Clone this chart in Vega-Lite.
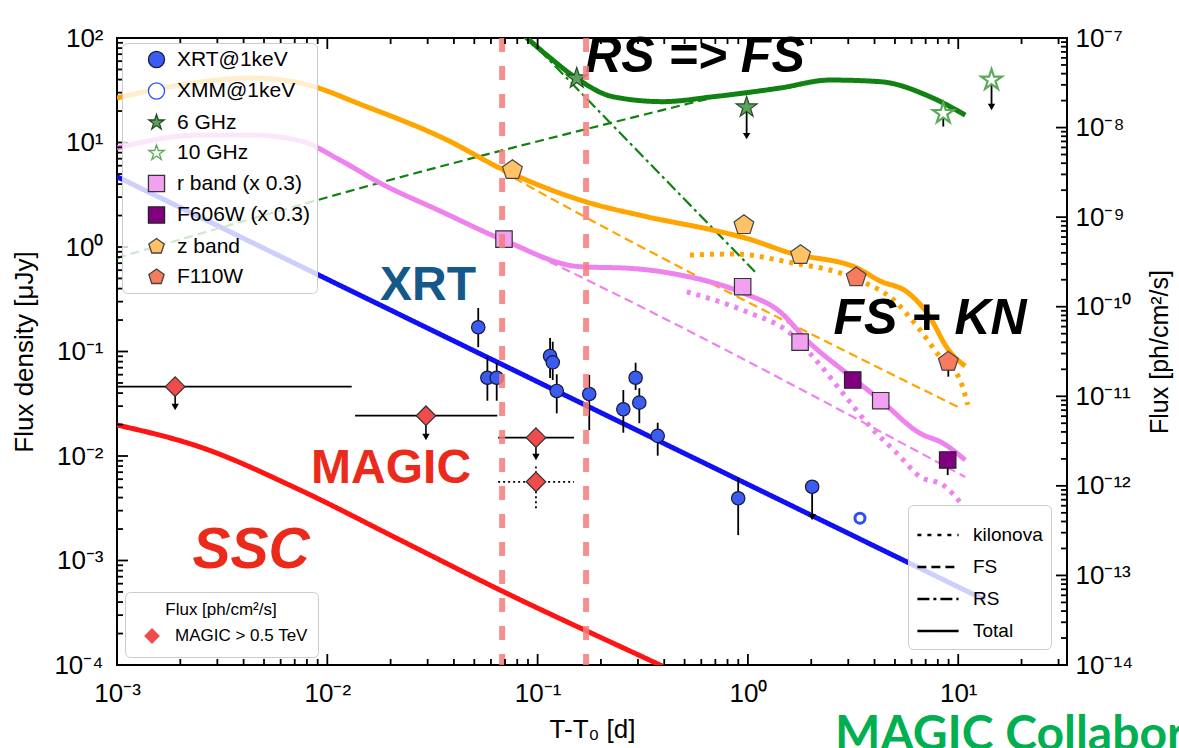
{
"$schema": "https://vega.github.io/schema/vega-lite/v6.json",
"width": 950,
"height": 627,
"autosize": {"type": "none"},
"padding": {"left": 117, "top": 38, "right": 112, "bottom": 83},
"background": "white",
"config": {
  "font": "Liberation Sans",
  "view": {"stroke": "black", "strokeWidth": 2},
  "axis": {"grid": false, "domain": false, "ticks": false, "tickSize": 0, "labelColor": "black", "titleColor": "black", "labelFont": "Liberation Sans", "titleFont": "Liberation Sans", "labelFontSize": 26, "titleFontSize": 26, "titleFontWeight": "normal", "labelOverlap": false, "labelFlush": false, "labelBound": false, "tickCount": 70},
  "legend": {"labelFont": "Liberation Sans", "titleFont": "Liberation Sans", "labelColor": "black", "titleColor": "black"}
},
"datasets": {
  "xt": [
    {"v":0.001,"m":1},{"v":0.002,"m":0},{"v":0.003,"m":0},{"v":0.004,"m":0},{"v":0.005,"m":0},{"v":0.006,"m":0},{"v":0.007,"m":0},{"v":0.008,"m":0},{"v":0.009,"m":0},
    {"v":0.01,"m":1},{"v":0.02,"m":0},{"v":0.03,"m":0},{"v":0.04,"m":0},{"v":0.05,"m":0},{"v":0.06,"m":0},{"v":0.07,"m":0},{"v":0.08,"m":0},{"v":0.09,"m":0},
    {"v":0.1,"m":1},{"v":0.2,"m":0},{"v":0.3,"m":0},{"v":0.4,"m":0},{"v":0.5,"m":0},{"v":0.6,"m":0},{"v":0.7,"m":0},{"v":0.8,"m":0},{"v":0.9,"m":0},
    {"v":1,"m":1},{"v":2,"m":0},{"v":3,"m":0},{"v":4,"m":0},{"v":5,"m":0},{"v":6,"m":0},{"v":7,"m":0},{"v":8,"m":0},{"v":9,"m":0},
    {"v":10,"m":1},{"v":20,"m":0},{"v":30,"m":0}
  ],
  "yt": [
    {"v":0.0001,"m":1},{"v":0.0002,"m":0},{"v":0.0003,"m":0},{"v":0.0004,"m":0},{"v":0.0005,"m":0},{"v":0.0006,"m":0},{"v":0.0007,"m":0},{"v":0.0008,"m":0},{"v":0.0009,"m":0},
    {"v":0.001,"m":1},{"v":0.002,"m":0},{"v":0.003,"m":0},{"v":0.004,"m":0},{"v":0.005,"m":0},{"v":0.006,"m":0},{"v":0.007,"m":0},{"v":0.008,"m":0},{"v":0.009,"m":0},
    {"v":0.01,"m":1},{"v":0.02,"m":0},{"v":0.03,"m":0},{"v":0.04,"m":0},{"v":0.05,"m":0},{"v":0.06,"m":0},{"v":0.07,"m":0},{"v":0.08,"m":0},{"v":0.09,"m":0},
    {"v":0.1,"m":1},{"v":0.2,"m":0},{"v":0.3,"m":0},{"v":0.4,"m":0},{"v":0.5,"m":0},{"v":0.6,"m":0},{"v":0.7,"m":0},{"v":0.8,"m":0},{"v":0.9,"m":0},
    {"v":1,"m":1},{"v":2,"m":0},{"v":3,"m":0},{"v":4,"m":0},{"v":5,"m":0},{"v":6,"m":0},{"v":7,"m":0},{"v":8,"m":0},{"v":9,"m":0},
    {"v":10,"m":1},{"v":20,"m":0},{"v":30,"m":0},{"v":40,"m":0},{"v":50,"m":0},{"v":60,"m":0},{"v":70,"m":0},{"v":80,"m":0},{"v":90,"m":0},
    {"v":100,"m":1}
  ],
  "pt": [
    {"v":1e-14,"m":1},{"v":2e-14,"m":0},{"v":3e-14,"m":0},{"v":4e-14,"m":0},{"v":5e-14,"m":0},{"v":6e-14,"m":0},{"v":7e-14,"m":0},{"v":8e-14,"m":0},{"v":9e-14,"m":0},
    {"v":1e-13,"m":1},{"v":2e-13,"m":0},{"v":3e-13,"m":0},{"v":4e-13,"m":0},{"v":5e-13,"m":0},{"v":6e-13,"m":0},{"v":7e-13,"m":0},{"v":8e-13,"m":0},{"v":9e-13,"m":0},
    {"v":1e-12,"m":1},{"v":2e-12,"m":0},{"v":3e-12,"m":0},{"v":4e-12,"m":0},{"v":5e-12,"m":0},{"v":6e-12,"m":0},{"v":7e-12,"m":0},{"v":8e-12,"m":0},{"v":9e-12,"m":0},
    {"v":1e-11,"m":1},{"v":2e-11,"m":0},{"v":3e-11,"m":0},{"v":4e-11,"m":0},{"v":5e-11,"m":0},{"v":6e-11,"m":0},{"v":7e-11,"m":0},{"v":8e-11,"m":0},{"v":9e-11,"m":0},
    {"v":1e-10,"m":1},{"v":2e-10,"m":0},{"v":3e-10,"m":0},{"v":4e-10,"m":0},{"v":5e-10,"m":0},{"v":6e-10,"m":0},{"v":7e-10,"m":0},{"v":8e-10,"m":0},{"v":9e-10,"m":0},
    {"v":1e-9,"m":1},{"v":2e-9,"m":0},{"v":3e-9,"m":0},{"v":4e-9,"m":0},{"v":5e-9,"m":0},{"v":6e-9,"m":0},{"v":7e-9,"m":0},{"v":8e-9,"m":0},{"v":9e-9,"m":0},
    {"v":1e-8,"m":1},{"v":2e-8,"m":0},{"v":3e-8,"m":0},{"v":4e-8,"m":0},{"v":5e-8,"m":0},{"v":6e-8,"m":0},{"v":7e-8,"m":0},{"v":8e-8,"m":0},{"v":9e-8,"m":0},
    {"v":1e-7,"m":1}
  ],
  "curves": [
    {"band":"X-ray","comp":"Total","t":0.001,"f":4.71},
    {"band":"X-ray","comp":"Total","t":13.4,"f":0.000419},
    {"band":"SSC","comp":"Total","t":0.001,"f":0.0198},
    {"band":"SSC","comp":"Total","t":0.00248,"f":0.0122},
    {"band":"SSC","comp":"Total","t":0.00741,"f":0.00473},
    {"band":"SSC","comp":"Total","t":0.0222,"f":0.00157},
    {"band":"SSC","comp":"Total","t":0.0662,"f":0.000522},
    {"band":"SSC","comp":"Total","t":0.382,"f":0.0001},
    {"band":"SSC","comp":"Total","t":0.6,"f":0.0000653},
    {"band":"radio","comp":"Total","t":0.07,"f":150},
    {"band":"radio","comp":"Total","t":0.0824,"f":114},
    {"band":"radio","comp":"Total","t":0.1104,"f":68.8},
    {"band":"radio","comp":"Total","t":0.1535,"f":41.1},
    {"band":"radio","comp":"Total","t":0.2286,"f":27.4},
    {"band":"radio","comp":"Total","t":0.394,"f":24.6},
    {"band":"radio","comp":"Total","t":0.682,"f":27.4},
    {"band":"radio","comp":"Total","t":1.42,"f":33.2},
    {"band":"radio","comp":"Total","t":2.46,"f":39.6},
    {"band":"radio","comp":"Total","t":4.25,"f":38.2},
    {"band":"radio","comp":"Total","t":7.35,"f":27.4},
    {"band":"radio","comp":"Total","t":10.8,"f":18.3},
    {"band":"radio","comp":"FS","t":0.001,"f":0.785},
    {"band":"radio","comp":"FS","t":0.0178,"f":4.12},
    {"band":"radio","comp":"FS","t":0.661,"f":26.5},
    {"band":"radio","comp":"RS","t":0.085,"f":112},
    {"band":"radio","comp":"RS","t":1.08,"f":0.58},
    {"band":"z","comp":"Total","t":0.001,"f":26.7},
    {"band":"z","comp":"Total","t":0.00248,"f":37.9},
    {"band":"z","comp":"Total","t":0.00429,"f":41.4},
    {"band":"z","comp":"Total","t":0.00741,"f":37.1},
    {"band":"z","comp":"Total","t":0.01538,"f":22.0},
    {"band":"z","comp":"Total","t":0.037,"f":10.6},
    {"band":"z","comp":"Total","t":0.0662,"f":5.70},
    {"band":"z","comp":"Total","t":0.159,"f":2.82},
    {"band":"z","comp":"Total","t":0.33,"f":1.95},
    {"band":"z","comp":"Total","t":0.682,"f":1.45},
    {"band":"z","comp":"Total","t":0.986,"f":1.21},
    {"band":"z","comp":"Total","t":1.585,"f":0.877},
    {"band":"z","comp":"Total","t":3.30,"f":0.630},
    {"band":"z","comp":"Total","t":4.25,"f":0.473},
    {"band":"z","comp":"Total","t":5.71,"f":0.371},
    {"band":"z","comp":"Total","t":7.11,"f":0.234},
    {"band":"z","comp":"Total","t":9.14,"f":0.0989},
    {"band":"z","comp":"Total","t":10.8,"f":0.0727},
    {"band":"z","comp":"FS","t":0.001,"f":26.7},
    {"band":"z","comp":"FS","t":0.00248,"f":37.9},
    {"band":"z","comp":"FS","t":0.00429,"f":41.4},
    {"band":"z","comp":"FS","t":0.00741,"f":37.1},
    {"band":"z","comp":"FS","t":0.01538,"f":22.0},
    {"band":"z","comp":"FS","t":0.037,"f":10.6},
    {"band":"z","comp":"FS","t":0.0662,"f":5.45},
    {"band":"z","comp":"FS","t":10.2,"f":0.0288},
    {"band":"z","comp":"kilonova","t":0.53,"f":0.838},
    {"band":"z","comp":"kilonova","t":0.849,"f":0.857},
    {"band":"z","comp":"kilonova","t":1.639,"f":0.703},
    {"band":"z","comp":"kilonova","t":2.74,"f":0.564},
    {"band":"z","comp":"kilonova","t":3.53,"f":0.462},
    {"band":"z","comp":"kilonova","t":4.74,"f":0.332},
    {"band":"z","comp":"kilonova","t":6.58,"f":0.161},
    {"band":"z","comp":"kilonova","t":8.19,"f":0.0886},
    {"band":"z","comp":"kilonova","t":10.2,"f":0.0533},
    {"band":"z","comp":"kilonova","t":11.1,"f":0.0308},
    {"band":"r","comp":"Total","t":0.001,"f":8.86},
    {"band":"r","comp":"Total","t":0.00248,"f":11.8},
    {"band":"r","comp":"Total","t":0.00429,"f":11.8},
    {"band":"r","comp":"Total","t":0.00741,"f":10.4},
    {"band":"r","comp":"Total","t":0.01148,"f":6.80},
    {"band":"r","comp":"Total","t":0.0178,"f":4.10},
    {"band":"r","comp":"Total","t":0.0344,"f":2.21},
    {"band":"r","comp":"Total","t":0.0685,"f":1.17},
    {"band":"r","comp":"Total","t":0.159,"f":0.648},
    {"band":"r","comp":"Total","t":0.275,"f":0.625},
    {"band":"r","comp":"Total","t":0.475,"f":0.540},
    {"band":"r","comp":"Total","t":0.948,"f":0.363},
    {"band":"r","comp":"Total","t":1.42,"f":0.240},
    {"band":"r","comp":"Total","t":1.90,"f":0.129},
    {"band":"r","comp":"Total","t":2.95,"f":0.0618},
    {"band":"r","comp":"Total","t":4.25,"f":0.0344},
    {"band":"r","comp":"Total","t":6.58,"f":0.0165},
    {"band":"r","comp":"Total","t":8.47,"f":0.01324},
    {"band":"r","comp":"Total","t":10.8,"f":0.00916},
    {"band":"r","comp":"FS","t":0.001,"f":8.86},
    {"band":"r","comp":"FS","t":0.00248,"f":11.8},
    {"band":"r","comp":"FS","t":0.00429,"f":11.8},
    {"band":"r","comp":"FS","t":0.00741,"f":10.4},
    {"band":"r","comp":"FS","t":0.01148,"f":6.80},
    {"band":"r","comp":"FS","t":0.0178,"f":4.10},
    {"band":"r","comp":"FS","t":0.0344,"f":2.21},
    {"band":"r","comp":"FS","t":0.0685,"f":1.17},
    {"band":"r","comp":"FS","t":10.8,"f":0.00629},
    {"band":"r","comp":"kilonova","t":0.512,"f":0.373},
    {"band":"r","comp":"kilonova","t":0.986,"f":0.240},
    {"band":"r","comp":"kilonova","t":1.585,"f":0.150},
    {"band":"r","comp":"kilonova","t":2.04,"f":0.0891},
    {"band":"r","comp":"kilonova","t":2.95,"f":0.0359},
    {"band":"r","comp":"kilonova","t":3.81,"f":0.0191},
    {"band":"r","comp":"kilonova","t":5.10,"f":0.0107},
    {"band":"r","comp":"kilonova","t":6.58,"f":0.00634},
    {"band":"r","comp":"kilonova","t":8.47,"f":0.00527},
    {"band":"r","comp":"kilonova","t":10.5,"f":0.00340}
  ],
  "pts": [
    {"inst":"XRT@1keV","t":0.0522,"f":0.1705,"lo":0.110,"hi":0.261},
    {"inst":"XRT@1keV","t":0.0577,"f":0.0561,"lo":0.0338,"hi":0.0891},
    {"inst":"XRT@1keV","t":0.0639,"f":0.0561,"lo":0.0338,"hi":0.0776},
    {"inst":"XRT@1keV","t":0.1146,"f":0.0906,"lo":0.0557,"hi":0.1346},
    {"inst":"XRT@1keV","t":0.118,"f":0.0788,"lo":0.0533,"hi":0.124},
    {"inst":"XRT@1keV","t":0.1233,"f":0.0419,"lo":0.0256,"hi":0.0605},
    {"inst":"XRT@1keV","t":0.176,"f":0.0392,"lo":0.0177,"hi":0.0596},
    {"inst":"XRT@1keV","t":0.2556,"f":0.028,"lo":0.0167,"hi":0.0428},
    {"inst":"XRT@1keV","t":0.2924,"f":0.0561,"lo":0.0428,"hi":0.0781},
    {"inst":"XRT@1keV","t":0.3045,"f":0.0324,"lo":0.0206,"hi":0.0445},
    {"inst":"XRT@1keV","t":0.3724,"f":0.0156,"lo":0.01007,"hi":0.0208},
    {"inst":"XRT@1keV","t":0.899,"f":0.00394,"lo":0.00175,"hi":0.00612},
    {"inst":"XRT@1keV","t":2.02,"f":0.00508},
    {"inst":"XMM@1keV","t":3.41,"f":0.00254},
    {"inst":"6 GHz","t":0.1535,"f":41.1},
    {"inst":"6 GHz","t":0.986,"f":21.7},
    {"inst":"10 GHz","t":8.49,"f":19.0,"lo":14.2,"hi":19.0},
    {"inst":"10 GHz","t":14.4,"f":39.7},
    {"inst":"r band (x 0.3)","t":0.0692,"f":1.19},
    {"inst":"r band (x 0.3)","t":0.944,"f":0.417,"lo":0.39,"hi":0.46},
    {"inst":"r band (x 0.3)","t":1.77,"f":0.123},
    {"inst":"r band (x 0.3)","t":4.28,"f":0.0338,"lo":0.030,"hi":0.036},
    {"inst":"F606W (x 0.3)","t":3.15,"f":0.0533},
    {"inst":"F606W (x 0.3)","t":8.91,"f":0.00916,"lo":0.00657,"hi":0.0103},
    {"inst":"z band","t":0.0759,"f":5.45},
    {"inst":"z band","t":0.957,"f":1.62,"lo":1.36,"hi":2.02},
    {"inst":"z band","t":1.78,"f":0.838},
    {"inst":"F110W","t":3.27,"f":0.513},
    {"inst":"F110W","t":8.97,"f":0.0798,"lo":0.0574,"hi":0.088}
  ],
  "uls": [
    {"t":2.02,"f":0.00508,"fend":0.0026},
    {"t":0.986,"f":21.7,"fend":11.5},
    {"t":14.4,"f":39.7,"fend":21.9}
  ],
  "vlines": [{"t":0.0678},{"t":0.170}],
  "magic": [
    {"lab":"MAGIC > 0.5 TeV","kind":"ul","t":0.00189,"p":1.28e-11,"tlo":0.0009,"thi":0.01306,"pend":7.6e-12},
    {"lab":"MAGIC > 0.5 TeV","kind":"ul","t":0.02945,"p":6.07e-12,"tlo":0.01355,"thi":0.0643,"pend":3.51e-12},
    {"lab":"MAGIC > 0.5 TeV","kind":"ul","t":0.0982,"p":3.45e-12,"tlo":0.0649,"thi":0.149,"pend":2.1e-12},
    {"lab":"MAGIC > 0.5 TeV","kind":"est","t":0.0982,"p":1.11e-12,"tlo":0.0649,"thi":0.149,"plo":5.61e-13,"phi":1.64e-12}
  ]
},
"layer": [
  {
    "data": {"name": "curves"},
    "mark": {"type": "line", "clip": true, "interpolate": "monotone"},
    "encoding": {
      "x": {"field": "t", "type": "quantitative", "scale": {"type": "log", "domain": [0.001, 32.9], "nice": false},
            "axis": {"orient": "bottom", "title": "T-T₀ [d]",
                     "labelExpr": "abs(log(datum.value)/LN10 - round(log(datum.value)/LN10)) < 0.001 ? '10' + replace(replace(replace(replace(replace(replace(replace(replace(replace(replace(replace(toString(round(log(datum.value)/LN10)), '-', '⁻'), '0', '⁰'), regexp('1','g'), '¹'), '2', '²'), '3', '³'), '4', '⁴'), '5', '⁵'), '6', '⁶'), '7', '⁷'), '8', '⁸'), '9', '⁹') : ''",
                     "labelPadding": 15, "titlePadding": 10}},
      "y": {"field": "f", "type": "quantitative", "scale": {"type": "log", "domain": [0.0001, 100], "nice": false},
            "axis": {"orient": "left", "title": "Flux density [μJy]",
                     "labelExpr": "abs(log(datum.value)/LN10 - round(log(datum.value)/LN10)) < 0.001 ? '10' + replace(replace(replace(replace(replace(replace(replace(replace(replace(replace(replace(toString(round(log(datum.value)/LN10)), '-', '⁻'), '0', '⁰'), regexp('1','g'), '¹'), '2', '²'), '3', '³'), '4', '⁴'), '5', '⁵'), '6', '⁶'), '7', '⁷'), '8', '⁸'), '9', '⁹') : ''",
                     "labelPadding": 14, "titlePadding": 16}},
      "color": {"field": "band", "type": "nominal", "scale": {"domain": ["X-ray","SSC","radio","z","r"], "range": ["#1010F5","#FF1414","#118211","#FFA500","#EE82EE"]}, "legend": null},
      "strokeDash": {"field": "comp", "type": "nominal",
                     "scale": {"domain": ["kilonova","FS","RS","Total"], "range": [[4,6],[9,5],[12,4,3,4],[1,0]]},
                     "legend": {"orient": "bottom-right", "offset": 16, "title": null, "fillColor": "rgba(255,255,255,0.8)", "strokeColor": "#cccccc", "cornerRadius": 5, "padding": 8, "symbolType": "stroke", "symbolSize": 1700, "symbolStrokeColor": "black", "symbolStrokeWidth": 2.6, "labelFontSize": 19, "rowPadding": -17, "labelOffset": 13}},
      "strokeWidth": {"condition": {"test": "datum.comp == 'FS' || datum.comp == 'RS'", "value": 2.2}, "value": 5}
    }
  },
  {
    "data": {"name": "pts"},
    "transform": [{"filter": "isValid(datum.lo)"}],
    "mark": {"type": "rule", "color": "black", "strokeWidth": 1.8},
    "encoding": {
      "x": {"field": "t", "type": "quantitative", "scale": {"type": "log", "domain": [0.001, 32.9], "nice": false}, "axis": null},
      "y": {"field": "lo", "type": "quantitative", "scale": {"type": "log", "domain": [0.0001, 100], "nice": false}, "axis": null},
      "y2": {"field": "hi"}
    }
  },
  {
    "data": {"name": "uls"},
    "mark": {"type": "rule", "color": "black", "strokeWidth": 1.8},
    "encoding": {
      "x": {"field": "t", "type": "quantitative", "scale": {"type": "log", "domain": [0.001, 32.9], "nice": false}, "axis": null},
      "y": {"field": "f", "type": "quantitative", "scale": {"type": "log", "domain": [0.0001, 100], "nice": false}, "axis": null},
      "y2": {"field": "fend"}
    }
  },
  {
    "data": {"name": "uls"},
    "mark": {"type": "point", "shape": "triangle-down", "filled": true, "color": "black", "opacity": 1, "size": 55},
    "encoding": {
      "x": {"field": "t", "type": "quantitative", "scale": {"type": "log", "domain": [0.001, 32.9], "nice": false}, "axis": null},
      "y": {"field": "fend", "type": "quantitative", "scale": {"type": "log", "domain": [0.0001, 100], "nice": false}, "axis": null}
    }
  },
  {
    "data": {"name": "pts"},
    "mark": {"type": "point", "filled": true, "opacity": 1},
    "encoding": {
      "x": {"field": "t", "type": "quantitative", "scale": {"type": "log", "domain": [0.001, 32.9], "nice": false}, "axis": null},
      "y": {"field": "f", "type": "quantitative", "scale": {"type": "log", "domain": [0.0001, 100], "nice": false}, "axis": null},
      "shape": {"field": "inst", "type": "nominal",
                "scale": {"domain": ["XRT@1keV","XMM@1keV","6 GHz","10 GHz","r band (x 0.3)","F606W (x 0.3)","z band","F110W"],
                          "range": ["circle","circle","M0,-1L0.2245,-0.309L0.951,-0.309L0.363,0.118L0.588,0.809L0,0.382L-0.588,0.809L-0.363,0.118L-0.951,-0.309L-0.2245,-0.309Z","M0,-1L0.2245,-0.309L0.951,-0.309L0.363,0.118L0.588,0.809L0,0.382L-0.588,0.809L-0.363,0.118L-0.951,-0.309L-0.2245,-0.309Z","square","square","M0,-1L0.951,-0.309L0.588,0.809L-0.588,0.809L-0.951,-0.309Z","M0,-1L0.951,-0.309L0.588,0.809L-0.588,0.809L-0.951,-0.309Z"]},
                "legend": {"orient": "top-left", "offset": 5, "title": null, "fillColor": "rgba(255,255,255,0.8)", "strokeColor": "#cccccc", "cornerRadius": 5, "padding": 6, "labelFontSize": 21, "labelOffset": 10, "symbolOffset": 18, "rowPadding": 8.5, "symbolSize": 260, "symbolStrokeWidth": 1.3, "labelLimit": 300}},
      "fill": {"field": "inst", "type": "nominal",
               "scale": {"domain": ["XRT@1keV","XMM@1keV","6 GHz","10 GHz","r band (x 0.3)","F606W (x 0.3)","z band","F110W"],
                         "range": ["#3A5CF0","#FFFFFF","#5F9F5F","#FFFFFF","#F2A0F2","#800080","#FFC266","#F77B5E"]},
               "legend": {"orient": "top-left", "offset": 5, "title": null, "fillColor": "rgba(255,255,255,0.8)", "strokeColor": "#cccccc", "cornerRadius": 5, "padding": 6, "labelFontSize": 21, "labelOffset": 10, "symbolOffset": 18, "rowPadding": 8.5, "symbolSize": 260, "symbolStrokeWidth": 1.3, "labelLimit": 300}},
      "stroke": {"field": "inst", "type": "nominal",
                 "scale": {"domain": ["XRT@1keV","XMM@1keV","6 GHz","10 GHz","r band (x 0.3)","F606W (x 0.3)","z band","F110W"],
                           "range": ["#1A1A3A","#2F4FF5","#1F4F1F","#5AAA5A","#333333","#222222","#444444","#444444"]},
                 "legend": {"orient": "top-left", "offset": 5, "title": null, "fillColor": "rgba(255,255,255,0.8)", "strokeColor": "#cccccc", "cornerRadius": 5, "padding": 6, "labelFontSize": 21, "labelOffset": 10, "symbolOffset": 18, "rowPadding": 8.5, "symbolSize": 260, "symbolStrokeWidth": 1.3, "labelLimit": 300}},
      "size": {"condition": [{"test": "datum.inst == 'XMM@1keV'", "value": 100}, {"test": "datum.inst == '6 GHz' || datum.inst == '10 GHz'", "value": 480}, {"test": "datum.inst == 'z band' || datum.inst == 'F110W'", "value": 430}, {"test": "indexof(datum.inst, 'x 0.3') >= 0", "value": 270}], "value": 180},
      "strokeWidth": {"condition": [{"test": "datum.inst == 'XMM@1keV'", "value": 3}, {"test": "datum.inst == '10 GHz'", "value": 2.2}], "value": 1.2}
    }
  },
  {
    "data": {"values": [{"t":0.56,"f":47.3,"txt":"RS => FS"},{"t":7.35,"f":0.147,"txt":"FS + KN"}]},
    "mark": {"type": "text", "font": "Liberation Sans", "fontWeight": "bold", "fontStyle": "italic", "fontSize": 50, "color": "black", "align": "center", "baseline": "alphabetic"},
    "encoding": {
      "x": {"field": "t", "type": "quantitative", "scale": {"type": "log", "domain": [0.001, 32.9], "nice": false}, "axis": null},
      "y": {"field": "f", "type": "quantitative", "scale": {"type": "log", "domain": [0.0001, 100], "nice": false}, "axis": null},
      "text": {"field": "txt"}
    }
  },
  {
    "data": {"values": [{"t":0.0301,"f":0.311,"txt":"XRT"}]},
    "mark": {"type": "text", "font": "Liberation Sans", "fontWeight": "bold", "fontSize": 48, "color": "#15588A", "align": "center", "baseline": "alphabetic"},
    "encoding": {
      "x": {"field": "t", "type": "quantitative", "scale": {"type": "log", "domain": [0.001, 32.9], "nice": false}, "axis": null},
      "y": {"field": "f", "type": "quantitative", "scale": {"type": "log", "domain": [0.0001, 100], "nice": false}, "axis": null},
      "text": {"field": "txt"}
    }
  },
  {
    "data": {"values": [{"t":0.0201,"f":0.00552,"txt":"MAGIC"}]},
    "mark": {"type": "text", "font": "Liberation Sans", "fontWeight": "bold", "fontSize": 48, "color": "#EC2A1C", "align": "center", "baseline": "alphabetic"},
    "encoding": {
      "x": {"field": "t", "type": "quantitative", "scale": {"type": "log", "domain": [0.001, 32.9], "nice": false}, "axis": null},
      "y": {"field": "f", "type": "quantitative", "scale": {"type": "log", "domain": [0.0001, 100], "nice": false}, "axis": null},
      "text": {"field": "txt"}
    }
  },
  {
    "data": {"values": [{"t":0.00434,"f":0.000848,"txt":"SSC"}]},
    "mark": {"type": "text", "font": "Liberation Sans", "fontWeight": "bold", "fontStyle": "italic", "fontSize": 57, "color": "#EC2A1C", "align": "center", "baseline": "alphabetic"},
    "encoding": {
      "x": {"field": "t", "type": "quantitative", "scale": {"type": "log", "domain": [0.001, 32.9], "nice": false}, "axis": null},
      "y": {"field": "f", "type": "quantitative", "scale": {"type": "log", "domain": [0.0001, 100], "nice": false}, "axis": null},
      "text": {"field": "txt"}
    }
  },
  {
    "data": {"values": [{"t":2.595,"f":0.0000154,"txt":"MAGIC Collaboration"}]},
    "mark": {"type": "text", "font": "Lato", "fontWeight": "bold", "fontSize": 48, "color": "#00B050", "align": "left", "baseline": "alphabetic"},
    "encoding": {
      "x": {"field": "t", "type": "quantitative", "scale": {"type": "log", "domain": [0.001, 32.9], "nice": false}, "axis": null},
      "y": {"field": "f", "type": "quantitative", "scale": {"type": "log", "domain": [0.0001, 100], "nice": false}, "axis": null},
      "text": {"field": "txt"}
    }
  },
  {
    "data": {"name": "magic"},
    "transform": [{"filter": "datum.kind == 'ul'"}],
    "mark": {"type": "rule", "color": "black", "strokeWidth": 1.8, "clip": true},
    "encoding": {
      "x": {"field": "tlo", "type": "quantitative", "scale": {"type": "log", "domain": [0.001, 32.9], "nice": false}, "axis": null},
      "x2": {"field": "thi"},
      "y": {"field": "p", "type": "quantitative", "scale": {"type": "log", "domain": [1e-14, 1e-7], "nice": false}, "axis": null}
    }
  },
  {
    "data": {"name": "magic"},
    "transform": [{"filter": "datum.kind == 'est'"}],
    "mark": {"type": "rule", "color": "black", "strokeWidth": 1.8, "strokeDash": [2, 3]},
    "encoding": {
      "x": {"field": "tlo", "type": "quantitative", "scale": {"type": "log", "domain": [0.001, 32.9], "nice": false}, "axis": null},
      "x2": {"field": "thi"},
      "y": {"field": "p", "type": "quantitative", "scale": {"type": "log", "domain": [1e-14, 1e-7], "nice": false}, "axis": null}
    }
  },
  {
    "data": {"name": "magic"},
    "transform": [{"filter": "datum.kind == 'est'"}],
    "mark": {"type": "rule", "color": "black", "strokeWidth": 1.8, "strokeDash": [2, 3]},
    "encoding": {
      "x": {"field": "t", "type": "quantitative", "scale": {"type": "log", "domain": [0.001, 32.9], "nice": false}, "axis": null},
      "y": {"field": "plo", "type": "quantitative", "scale": {"type": "log", "domain": [1e-14, 1e-7], "nice": false}, "axis": null},
      "y2": {"field": "phi"}
    }
  },
  {
    "data": {"name": "magic"},
    "transform": [{"filter": "datum.kind == 'ul'"}],
    "mark": {"type": "rule", "color": "black", "strokeWidth": 1.6},
    "encoding": {
      "x": {"field": "t", "type": "quantitative", "scale": {"type": "log", "domain": [0.001, 32.9], "nice": false}, "axis": null},
      "y": {"field": "p", "type": "quantitative", "scale": {"type": "log", "domain": [1e-14, 1e-7], "nice": false}, "axis": null},
      "y2": {"field": "pend"}
    }
  },
  {
    "data": {"name": "magic"},
    "transform": [{"filter": "datum.kind == 'ul'"}],
    "mark": {"type": "point", "shape": "triangle-down", "filled": true, "color": "black", "opacity": 1, "size": 55},
    "encoding": {
      "x": {"field": "t", "type": "quantitative", "scale": {"type": "log", "domain": [0.001, 32.9], "nice": false}, "axis": null},
      "y": {"field": "pend", "type": "quantitative", "scale": {"type": "log", "domain": [1e-14, 1e-7], "nice": false}, "axis": null}
    }
  },
  {
    "data": {"name": "magic"},
    "mark": {"type": "point", "filled": true, "opacity": 1, "size": 380, "fill": "#F24B4B", "stroke": "#333333", "strokeWidth": 1.2},
    "encoding": {
      "x": {"field": "t", "type": "quantitative", "scale": {"type": "log", "domain": [0.001, 32.9], "nice": false}, "axis": null},
      "y": {"field": "p", "type": "quantitative", "scale": {"type": "log", "domain": [1e-14, 1e-7], "nice": false},
            "axis": {"orient": "right", "title": "Flux [ph/cm²/s]", "titleFontSize": 25, "titleAngle": 270, "titleBaseline": "top",
                     "labelExpr": "abs(log(datum.value)/LN10 - round(log(datum.value)/LN10)) < 0.001 ? '10' + replace(replace(replace(replace(replace(replace(replace(replace(replace(replace(replace(toString(round(log(datum.value)/LN10)), '-', '⁻'), '0', '⁰'), regexp('1','g'), '¹'), '2', '²'), '3', '³'), '4', '⁴'), '5', '⁵'), '6', '⁶'), '7', '⁷'), '8', '⁸'), '9', '⁹') : ''",
                     "labelPadding": 8, "titlePadding": 15}},
      "shape": {"field": "lab", "type": "nominal", "scale": {"domain": ["MAGIC > 0.5 TeV"], "range": ["diamond"]},
                "legend": {"orient": "bottom-left", "offset": 8, "title": "Flux [ph/cm²/s]", "titleFontSize": 17, "titleFontWeight": "normal", "titleAnchor": "middle", "titlePadding": 8, "fillColor": "rgba(255,255,255,0.8)", "strokeColor": "#cccccc", "cornerRadius": 5, "padding": 10, "labelFontSize": 17, "symbolSize": 250, "symbolFillColor": "#F24B4B", "symbolStrokeColor": "#333333", "symbolStrokeWidth": 1.2, "symbolOffset": 8, "labelOffset": 14}}
    }
  },
  {
    "data": {"name": "vlines"},
    "mark": {"type": "rule", "color": "#F47C7C", "opacity": 0.85, "strokeWidth": 6, "strokeDash": [14, 14]},
    "encoding": {"x": {"field": "t", "type": "quantitative", "scale": {"type": "log", "domain": [0.001, 32.9], "nice": false}, "axis": null}}
  },
  {
    "data": {"name": "xt"},
    "transform": [{"filter": "datum.m == 1"}],
    "mark": {"type": "rule", "color": "black", "strokeWidth": 1.8, "y2Offset": -11},
    "encoding": {
      "x": {"field": "v", "type": "quantitative", "scale": {"type": "log", "domain": [0.001, 32.9], "nice": false}, "axis": null},
      "y": {"value": "height"}, "y2": {"value": "height"}
    }
  },
  {
    "data": {"name": "xt"},
    "transform": [{"filter": "datum.m == 0"}],
    "mark": {"type": "rule", "color": "black", "strokeWidth": 1.8, "y2Offset": -6},
    "encoding": {
      "x": {"field": "v", "type": "quantitative", "scale": {"type": "log", "domain": [0.001, 32.9], "nice": false}, "axis": null},
      "y": {"value": "height"}, "y2": {"value": "height"}
    }
  },
  {
    "data": {"name": "xt"},
    "transform": [{"filter": "datum.m == 1"}],
    "mark": {"type": "rule", "color": "black", "strokeWidth": 1.8, "y2Offset": 11},
    "encoding": {
      "x": {"field": "v", "type": "quantitative", "scale": {"type": "log", "domain": [0.001, 32.9], "nice": false}, "axis": null},
      "y": {"value": 0}, "y2": {"value": 0}
    }
  },
  {
    "data": {"name": "xt"},
    "transform": [{"filter": "datum.m == 0"}],
    "mark": {"type": "rule", "color": "black", "strokeWidth": 1.8, "y2Offset": 6},
    "encoding": {
      "x": {"field": "v", "type": "quantitative", "scale": {"type": "log", "domain": [0.001, 32.9], "nice": false}, "axis": null},
      "y": {"value": 0}, "y2": {"value": 0}
    }
  },
  {
    "data": {"name": "yt"},
    "transform": [{"filter": "datum.m == 1"}],
    "mark": {"type": "rule", "color": "black", "strokeWidth": 1.8, "x2Offset": 11},
    "encoding": {
      "y": {"field": "v", "type": "quantitative", "scale": {"type": "log", "domain": [0.0001, 100], "nice": false}, "axis": null},
      "x": {"value": 0}, "x2": {"value": 0}
    }
  },
  {
    "data": {"name": "yt"},
    "transform": [{"filter": "datum.m == 0"}],
    "mark": {"type": "rule", "color": "black", "strokeWidth": 1.8, "x2Offset": 6},
    "encoding": {
      "y": {"field": "v", "type": "quantitative", "scale": {"type": "log", "domain": [0.0001, 100], "nice": false}, "axis": null},
      "x": {"value": 0}, "x2": {"value": 0}
    }
  },
  {
    "data": {"name": "pt"},
    "transform": [{"filter": "datum.m == 1"}],
    "mark": {"type": "rule", "color": "black", "strokeWidth": 1.8, "x2Offset": -11},
    "encoding": {
      "y": {"field": "v", "type": "quantitative", "scale": {"type": "log", "domain": [1e-14, 1e-7], "nice": false}, "axis": null},
      "x": {"value": "width"}, "x2": {"value": "width"}
    }
  },
  {
    "data": {"name": "pt"},
    "transform": [{"filter": "datum.m == 0"}],
    "mark": {"type": "rule", "color": "black", "strokeWidth": 1.8, "x2Offset": -6},
    "encoding": {
      "y": {"field": "v", "type": "quantitative", "scale": {"type": "log", "domain": [1e-14, 1e-7], "nice": false}, "axis": null},
      "x": {"value": "width"}, "x2": {"value": "width"}
    }
  }
],
"resolve": {"scale": {"y": "independent", "shape": "independent", "fill": "independent", "stroke": "independent", "size": "independent"}, "axis": {"x": "independent", "y": "independent"}}
}
